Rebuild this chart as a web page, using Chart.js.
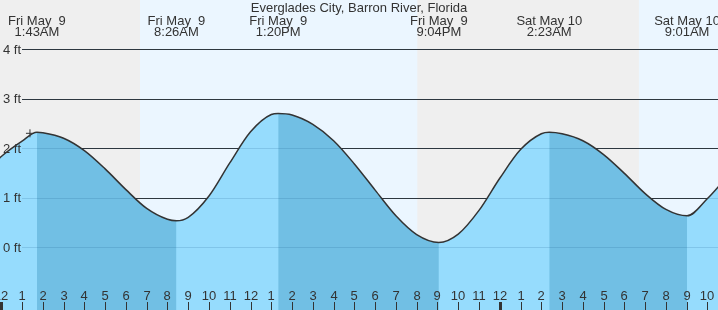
<!DOCTYPE html>
<html>
<head>
<meta charset="utf-8">
<script src="https://cdn.jsdelivr.net/npm/chart.js@4"></script>
<style>
  html, body { margin: 0; padding: 0; background: #efefef; }
  canvas { display: block; }
</style>
</head>
<body>
<canvas id="tideChart" width="718" height="310"></canvas>
<script>
const titleText = 'Everglades City, Barron River, Florida';

// hours counted from midnight Fri May 9, tide level in feet
const tideHours = [-1, 0, 1, 1.717, 2, 3, 4, 5, 6, 7, 8, 8.433, 9, 10, 11, 12, 13, 13.333,
    14, 15, 16, 17, 18, 19, 20, 21.067, 22, 23, 24, 25, 26, 26.383,
    27, 28, 29, 30, 31, 32, 33.017, 34, 35];
const tideLevels = [1.42, 1.83, 2.14, 2.32, 2.31, 2.20, 1.95, 1.58, 1.16, 0.78, 0.56, 0.53, 0.60, 1.03, 1.70, 2.33, 2.68, 2.70,
    2.67, 2.48, 2.15, 1.68, 1.15, 0.63, 0.25, 0.09, 0.26, 0.74, 1.39, 1.97, 2.29, 2.32,
    2.29, 2.15, 1.87, 1.49, 1.08, 0.76, 0.63, 0.98, 1.45];

// high / low labels along the top
const extremeHours = [1.717, 8.433, 13.333, 21.067, 26.383, 33.017];
const extremeDays = ['Fri May  9', 'Fri May  9', 'Fri May  9', 'Fri May  9', 'Sat May 10', 'Sat May 10'];
const extremeTimes = ['1:43AM', '8:26AM', '1:20PM', '9:04PM', '2:23AM', '9:01AM'];

// daylight periods
const sunriseHours = [6.68, 30.70];
const sunsetHours = [20.03, 44];

const levelTicks = [0, 1, 2, 3, 4];
const hourTicks = [];
for (let h = 0; h <= 34; h++) hourTicks.push(h);

const nowHour = [1.38];
const nowLevel = [2.30];

const lightFill = '#96dcfd';
const darkFill = '#71bfe4';
const textColor = '#333';
const font13 = '13px "Liberation Sans", Arial, sans-serif';

const tidePoints = tideHours.map((h, i) => ({ x: h, y: tideLevels[i] }));

function hourLabel(h) {
    const m = h % 12;
    return m === 0 ? '12' : String(m);
}

function drawLevelLines(chart, color, fromX) {
    const ctx = chart.ctx;
    const y = chart.scales.y;
    ctx.save();
    ctx.strokeStyle = color;
    ctx.lineWidth = 1;
    levelTicks.forEach(v => {
        const py = Math.round(y.getPixelForValue(v)) + 0.5;
        ctx.beginPath();
        ctx.moveTo(fromX, py);
        ctx.lineTo(chart.width, py);
        ctx.stroke();
    });
    ctx.restore();
}

const bgPlugin = {
    id: 'bands',
    beforeDraw(chart) {
        const ctx = chart.ctx;
        const x = chart.scales.x;
        ctx.save();
        ctx.fillStyle = '#efefef';
        ctx.fillRect(0, 0, chart.width, chart.height);
        ctx.fillStyle = '#ebf6ff';
        for (let i = 0; i < sunriseHours.length; i++) {
            const x0 = x.getPixelForValue(sunriseHours[i]);
            const x1 = x.getPixelForValue(sunsetHours[i]);
            ctx.fillRect(x0, 0, x1 - x0, chart.height);
        }
        ctx.restore();
    },
    beforeDatasetsDraw(chart) {
        drawLevelLines(chart, '#333', 22);
    },
    afterDatasetDraw(chart, args) {
        // faint level lines seen through the water
        if (chart.data.datasets[args.index].label === 'Ebb') {
            drawLevelLines(chart, 'rgba(20, 80, 130, 0.16)', 22);
        }
    }
};

const labelPlugin = {
    id: 'labels',
    afterDatasetsDraw(chart) {
        const ctx = chart.ctx;
        const x = chart.scales.x;
        const y = chart.scales.y;
        ctx.save();
        ctx.fillStyle = textColor;
        ctx.font = font13;

        // level labels
        ctx.textAlign = 'left';
        ctx.textBaseline = 'middle';
        levelTicks.forEach(v => {
            ctx.fillText(v + ' ft', 3, y.getPixelForValue(v) + 1);
        });

        // hour ticks along the bottom
        ctx.textAlign = 'center';
        ctx.textBaseline = 'alphabetic';
        hourTicks.forEach(h => {
            const px = Math.round(x.getPixelForValue(h));
            ctx.fillText(hourLabel(h), px, 300);
            if (h % 24 === 0) {
                ctx.fillRect(px - 1, 302, 3, 8);
            } else {
                ctx.fillRect(px, 302, 1, 8);
            }
        });

        // high / low times
        extremeHours.forEach((h, i) => {
            const px = x.getPixelForValue(h);
            ctx.fillText(extremeDays[i], px, 25);
            ctx.fillText(extremeTimes[i], px, 36);
        });

        ctx.fillText(titleText, 359, 12);
        ctx.restore();
    }
};

new Chart(document.getElementById('tideChart'), {
    type: 'line',
    data: {
        datasets: [{
            label: 'Now',
            order: 0,
            data: nowHour.map((h, i) => ({ x: h, y: nowLevel[i] })),
            showLine: false,
            pointStyle: 'cross',
            pointRadius: 4,
            borderColor: '#333',
            borderWidth: 1,
            fill: false
        }, {
            label: 'Tide',
            order: 1,
            data: tidePoints,
            borderColor: '#333',
            borderWidth: 1.5,
            pointRadius: 0,
            cubicInterpolationMode: 'monotone',
            fill: false
        }, {
            label: 'Ebb',
            order: 2,
            data: tidePoints,
            borderWidth: 0,
            borderColor: 'rgba(0,0,0,0)',
            pointRadius: 0,
            cubicInterpolationMode: 'monotone',
            fill: 'start',
            backgroundColor: darkFill,
            segment: {
                backgroundColor: ctx => ctx.p1.parsed.y < ctx.p0.parsed.y ? darkFill : 'rgba(0,0,0,0)'
            }
        }, {
            label: 'Flood',
            order: 3,
            data: tidePoints,
            borderWidth: 0,
            borderColor: 'rgba(0,0,0,0)',
            pointRadius: 0,
            cubicInterpolationMode: 'monotone',
            fill: 'start',
            backgroundColor: lightFill
        }]
    },
    options: {
        responsive: false,
        animation: false,
        devicePixelRatio: 1,
        layout: { padding: 0, autoPadding: false },
        plugins: {
            legend: { display: false },
            tooltip: { enabled: false }
        },
        scales: {
            x: { type: 'linear', min: -0.0626, max: 34.507, display: false },
            y: { min: -1.275, max: 4.997, display: false }
        }
    },
    plugins: [bgPlugin, labelPlugin]
});
</script>
</body>
</html>
